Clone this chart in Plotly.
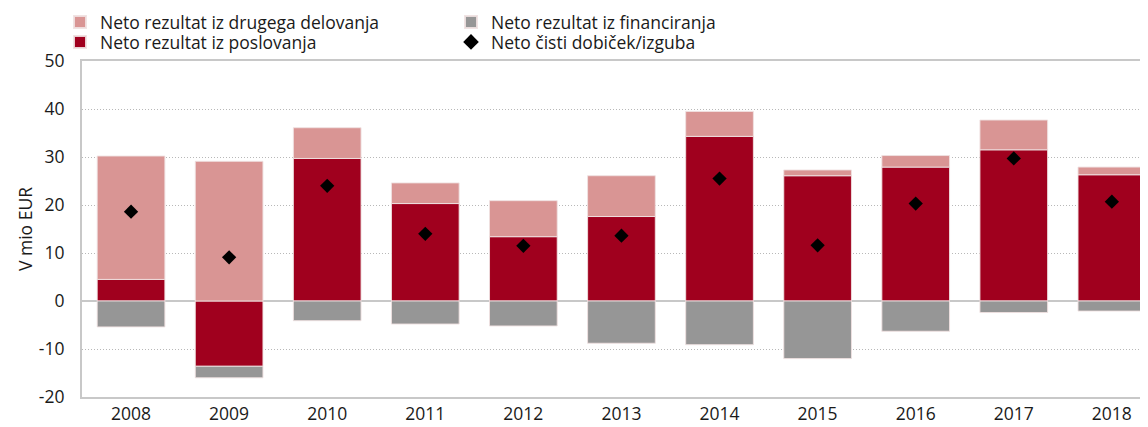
import plotly.graph_objects as go

years = ["2008", "2009", "2010", "2011", "2012", "2013", "2014", "2015", "2016", "2017", "2018"]
poslovanje = [4.5, -13.6, 29.7, 20.3, 13.4, 17.6, 34.3, 26.1, 27.9, 31.5, 26.3]
drugo = [25.7, 29.1, 6.4, 4.3, 7.5, 8.5, 5.2, 1.2, 2.4, 6.2, 1.6]
financiranje = [-5.4, -2.4, -4.1, -4.8, -5.2, -8.8, -9.1, -12.0, -6.3, -2.4, -2.1]
neto = [18.6, 9.1, 24.0, 14.0, 11.5, 13.6, 25.5, 11.6, 20.3, 29.7, 20.7]
y_tickvals = [-20, -10, 0, 10, 20, 30, 40, 50]
y_ticktext = ["-20", "-10", "0", "10", "20", "30", "40", "50"]

FONT = "Open Sans"
FS = 17.5
TXT = "#1a1a1a"
W, H = 1148, 419
line = dict(color="rgba(240,225,225,0.9)", width=1)

fig = go.Figure()
fig.add_trace(go.Bar(x=years, y=poslovanje, name="Neto rezultat iz poslovanja",
                     marker=dict(color="#A0001E", line=line), legend="legend2", legendrank=1))
fig.add_trace(go.Bar(x=years, y=drugo, name="Neto rezultat iz drugega delovanja",
                     marker=dict(color="#D99594", line=line), legend="legend", legendrank=1))
fig.add_trace(go.Bar(x=years, y=financiranje, name="Neto rezultat iz financiranja",
                     marker=dict(color="#969696", line=line), legend="legend", legendrank=2))
fig.add_trace(go.Scatter(x=years, y=neto, name="Neto čisti dobiček/izguba", mode="markers",
                         marker=dict(symbol="diamond", size=11, color="black"),
                         legend="legend2", legendrank=2))

leg_common = dict(orientation="h", xref="container", yref="container",
                  xanchor="left", yanchor="middle", entrywidth=346, entrywidthmode="pixels",
                  font=dict(size=FS, color=TXT), itemsizing="constant",
                  bgcolor="rgba(0,0,0,0)")

fig.update_layout(
    width=W, height=H,
    margin=dict(l=74, r=0, t=53, b=30, autoexpand=False),
    barmode="relative", bargap=0.31,
    plot_bgcolor="white", paper_bgcolor="white",
    font=dict(family=FONT, size=FS, color=TXT),
    showlegend=True,
    legend=dict(leg_common, x=52 / W, y=1 - 14 / H),
    legend2=dict(leg_common, x=52 / W, y=1 - 34 / H),
    xaxis=dict(type="category", range=[-0.5, 10.45], showgrid=False,
               showline=True, linecolor="#c8c8c8", linewidth=2, mirror=True,
               ticks="", tickfont=dict(size=FS, color=TXT)),
    yaxis=dict(range=[-20, 50], tickvals=y_tickvals, ticktext=y_ticktext,
               showgrid=True, gridcolor="#b8b8b8", griddash="1px,2px",
               gridwidth=1, zeroline=True, zerolinecolor="#c8c8c8", zerolinewidth=2,
               showline=True, linecolor="#c8c8c8", linewidth=2, ticks="",
               ticklabelstandoff=12,
               tickfont=dict(size=FS, color=TXT),
               title=dict(text="V mio EUR", font=dict(size=FS, color=TXT), standoff=2)),
)

fig.write_html("out.html")
